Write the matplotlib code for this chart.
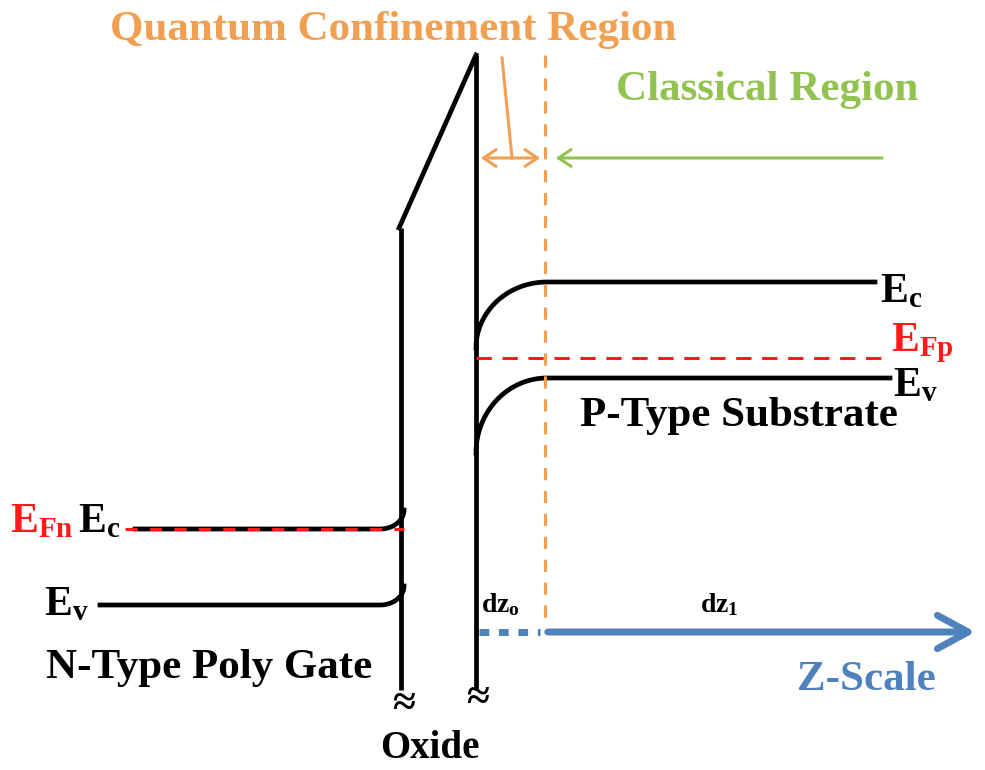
import numpy as np
import matplotlib.pyplot as plt

plt.rcParams['mathtext.fontset'] = 'custom'
plt.rcParams['mathtext.rm'] = 'Liberation Serif:bold'
plt.rcParams['mathtext.bf'] = 'Liberation Serif:bold'
plt.rcParams['mathtext.it'] = 'Liberation Serif:bold'

# band diagram, drawn in pixel coordinates of the 985x770 picture
gate_ec_y = 529
gate_ev_y = 605
gate_x = [135, 380]
gate_ev_x = [100, 380]
ox_left_x = 401
ox_right_x = 476
ox_top = 55
ox_left_top = 228
ox_bottom = 690
sub_ec = [348, 282]      # y at wall, y flat
sub_ev = [453, 378]
sub_efp = 358
sub_flat_x = 547
sub_end_x = [875, 890, 885]
arrow_y = 158

black = 'black'
orange = '#f0a050'
green = '#92c24f'
blue = '#4f81bd'
red = '#ff1a1a'
font = ['Liberation Serif', 'DejaVu Serif']

fig = plt.figure(figsize=(9.85, 7.7), dpi=100)
ax = fig.add_axes([0, 0, 1, 1])
ax.set_xlim(0, 985)
ax.set_ylim(770, 0)
ax.axis('off')

lw = 3.4

# oxide walls
ax.plot([ox_left_x, ox_left_x], [ox_bottom, ox_left_top], color=black, lw=lw, solid_capstyle='butt')
ax.plot([ox_left_x - 2, ox_right_x], [ox_left_top, ox_top], color=black, lw=lw)
ax.plot([ox_right_x, ox_right_x], [ox_top, ox_bottom], color=black, lw=lw, solid_capstyle='butt')

# gate bands with small bend up to the oxide
t = np.linspace(0, np.pi / 2, 40)
for y0, x0 in [(gate_ec_y, gate_x[0]), (gate_ev_y, gate_ev_x[0])]:
    bx = gate_x[1] + (ox_left_x + 3 - gate_x[1]) * np.sin(t)
    by = y0 - 19 + 19 * np.cos(t)
    ax.plot(np.r_[x0, bx], np.r_[y0, by], color=black, lw=lw)
ax.plot([125, ox_left_x + 3], [gate_ec_y, gate_ec_y], color=red, lw=2.2, dashes=(4, 4))

# substrate bands
for (yw, yf), xe in [(sub_ec, sub_end_x[0]), (sub_ev, sub_end_x[1])]:
    cx = ox_right_x + (sub_flat_x - ox_right_x) * (1 - np.cos(t))
    cy = yw - (yw - yf) * np.sin(t)
    ax.plot(np.r_[cx, xe], np.r_[cy, yf], color=black, lw=lw)
ax.plot([ox_right_x, sub_end_x[2]], [sub_efp, sub_efp], color=red, lw=2.2, dashes=(5, 3.5))

# region boundary
ax.plot([545, 545], [55, 620], color=orange, lw=2.2, dashes=(4, 3.5))

# arrows
ax.annotate('', xy=(ox_right_x + 2, arrow_y), xytext=(543, arrow_y),
            arrowprops=dict(arrowstyle='<->,head_length=0.9,head_width=0.6', color=orange, lw=2.2))
ax.plot([502, 512], [58, arrow_y], color=orange, lw=2.2)
ax.annotate('', xy=(553, arrow_y), xytext=(885, arrow_y),
            arrowprops=dict(arrowstyle='->,head_length=0.9,head_width=0.6', color=green, lw=2.2))
ax.plot([479, 540], [632, 632], color=blue, lw=5, dashes=(1.4, 1.4))
ax.annotate('', xy=(978, 632), xytext=(545, 632),
            arrowprops=dict(arrowstyle='->,head_length=2.2,head_width=1.2', color=blue, lw=5))

# break marks
ax.text(ox_left_x + 3, 705, '≈', fontsize=30, ha='center', va='center', family=font, fontweight='bold')
ax.text(ox_right_x + 2, 699, '≈', fontsize=30, ha='center', va='center', family=font, fontweight='bold')

# labels
kw = dict(family=font, fontweight='bold')
ax.text(393, 30, 'Quantum Confinement Region', color=orange, fontsize=31, ha='center', va='center', **kw)
ax.text(767, 90, 'Classical Region', color=green, fontsize=31, ha='center', va='center', **kw)
ax.text(880, 292, r'E$_\mathbf{c}$', color=black, fontsize=30, ha='left', va='center', **kw)
ax.text(891, 343, r'E$_\mathbf{Fp}$', color=red, fontsize=30, ha='left', va='center', **kw)
ax.text(893, 386, r'E$_\mathbf{v}$', color=black, fontsize=30, ha='left', va='center', **kw)
ax.text(739, 416, 'P-Type Substrate', color=black, fontsize=31, ha='center', va='center', **kw)
ax.text(10, 522, r'E$_\mathbf{Fn}$', color=red, fontsize=30, ha='left', va='center', **kw)
ax.text(78, 522, r'E$_\mathbf{c}$', color=black, fontsize=30, ha='left', va='center', **kw)
ax.text(44, 605, r'E$_\mathbf{v}$', color=black, fontsize=30, ha='left', va='center', **kw)
ax.text(209, 668, 'N-Type Poly Gate', color=black, fontsize=31, ha='center', va='center', **kw)
ax.text(866, 680, 'Z-Scale', color=blue, fontsize=31, ha='center', va='center', **kw)
ax.text(430, 748, 'Oxide', color=black, fontsize=28, ha='center', va='center', **kw)
ax.text(481, 605, r'dz$_\mathbf{o}$', color=black, fontsize=20, ha='left', va='center', **kw)
ax.text(700, 605, r'dz$_\mathbf{1}$', color=black, fontsize=20, ha='left', va='center', **kw)

fig.savefig('out.png', dpi=100, facecolor='white')
